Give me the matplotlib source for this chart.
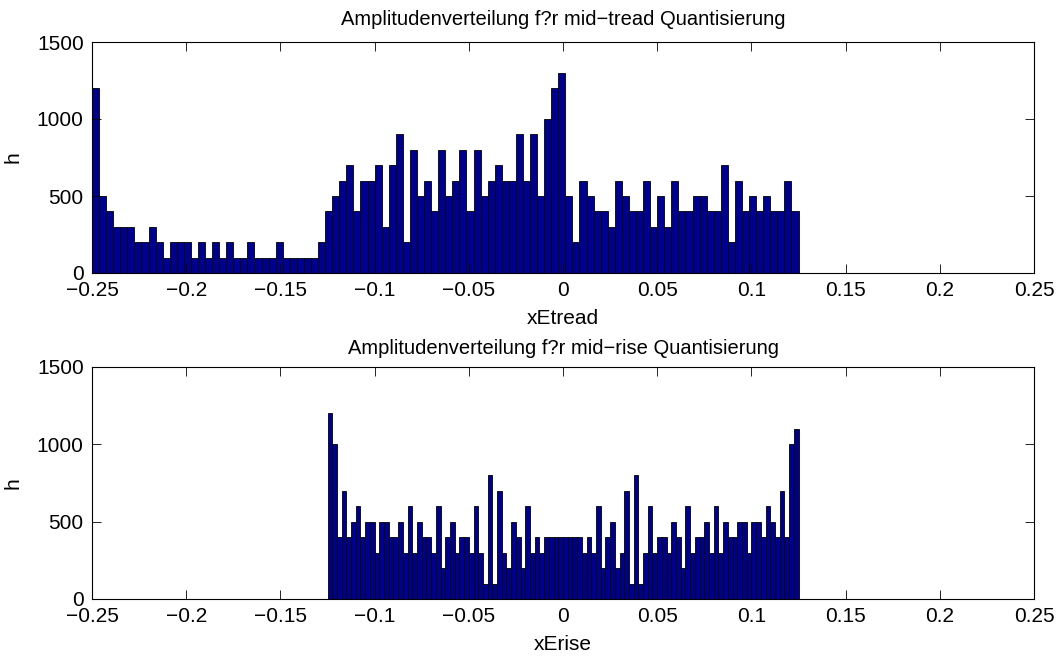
import numpy as np
import matplotlib
matplotlib.use("Agg")
import matplotlib.pyplot as plt

# histogram counts (100 bins each)
tread_range = (-0.25, 0.125)
tread_counts = [
    1200, 500, 400, 300, 300, 300, 200, 200, 300, 200,
    100, 200, 200, 200, 100, 200, 100, 200, 100, 200,
    100, 100, 200, 100, 100, 100, 200, 100, 100, 100,
    100, 100, 200, 400, 500, 600, 700, 400, 600, 600,
    700, 300, 700, 900, 200, 800, 500, 600, 400, 800,
    500, 600, 800, 400, 800, 500, 600, 700, 600, 600,
    900, 600, 900, 500, 1000, 1200, 1300, 500, 200, 600,
    500, 400, 400, 300, 600, 500, 400, 400, 600, 300,
    500, 300, 600, 400, 400, 500, 500, 400, 400, 700,
    200, 600, 400, 500, 400, 500, 400, 400, 600, 400,
]

rise_range = (-0.125, 0.125)
rise_counts = [
    1200, 1000, 400, 700, 400, 500, 600, 400, 500, 500,
    300, 500, 500, 400, 400, 500, 300, 600, 300, 500,
    400, 400, 300, 600, 200, 400, 500, 300, 400, 400,
    300, 600, 300, 100, 800, 100, 700, 300, 200, 500,
    400, 200, 600, 300, 400, 300, 400, 400, 400, 400,
    400, 400, 400, 400, 300, 400, 300, 600, 200, 400,
    500, 200, 300, 700, 100, 800, 100, 300, 600, 300,
    400, 400, 300, 500, 400, 200, 600, 300, 400, 400,
    500, 300, 600, 300, 500, 400, 400, 500, 500, 300,
    500, 500, 400, 600, 500, 400, 700, 400, 1000, 1100,
]

x_ticks = [-0.25, -0.2, -0.15, -0.1, -0.05, 0, 0.05, 0.1, 0.15, 0.2, 0.25]
y_ticks = [0, 500, 1000, 1500]

plt.rcParams['font.family'] = ['Liberation Sans', 'DejaVu Sans']
plt.rcParams['font.size'] = 15
plt.rcParams['axes.unicode_minus'] = True


def draw_hist(ax, rng, counts, title, xlabel, title_pad):
    edges = np.linspace(rng[0], rng[1], len(counts) + 1)
    ax.bar(edges[:-1], counts, width=np.diff(edges), align='edge',
           color='#00008f', edgecolor='black', linewidth=0.6)
    ax.set_xlim(-0.25, 0.25)
    ax.set_ylim(0, 1500)
    ax.set_xticks(x_ticks)
    ax.set_xticklabels([f"{t:g}".replace('-', '\u2212') for t in x_ticks])
    ax.set_yticks(y_ticks)
    ax.tick_params(direction='in', top=True, right=True, length=6.5,
                   width=0.6)
    ax.tick_params(axis='x', pad=6)
    ax.tick_params(axis='y', pad=6)
    for s in ax.spines.values():
        s.set_linewidth(0.8)
    ax.set_title(title, fontsize=14.5, pad=title_pad)
    ax.set_xlabel(xlabel, labelpad=6)
    ax.set_ylabel('h', labelpad=10)


fig = plt.figure(figsize=(10.6, 6.59), dpi=100)
ax1 = fig.add_axes([92 / 1060, 1 - 273 / 659, 942 / 1060, 231 / 659])
ax2 = fig.add_axes([92 / 1060, 1 - 599 / 659, 942 / 1060, 232 / 659])

draw_hist(ax1, tread_range, tread_counts,
          'Amplitudenverteilung f?r mid\u2212tread Quantisierung', 'xEtread', 12)
draw_hist(ax2, rise_range, rise_counts,
          'Amplitudenverteilung f?r mid\u2212rise Quantisierung', 'xErise', 9)

fig.savefig('out.png', dpi=100)
